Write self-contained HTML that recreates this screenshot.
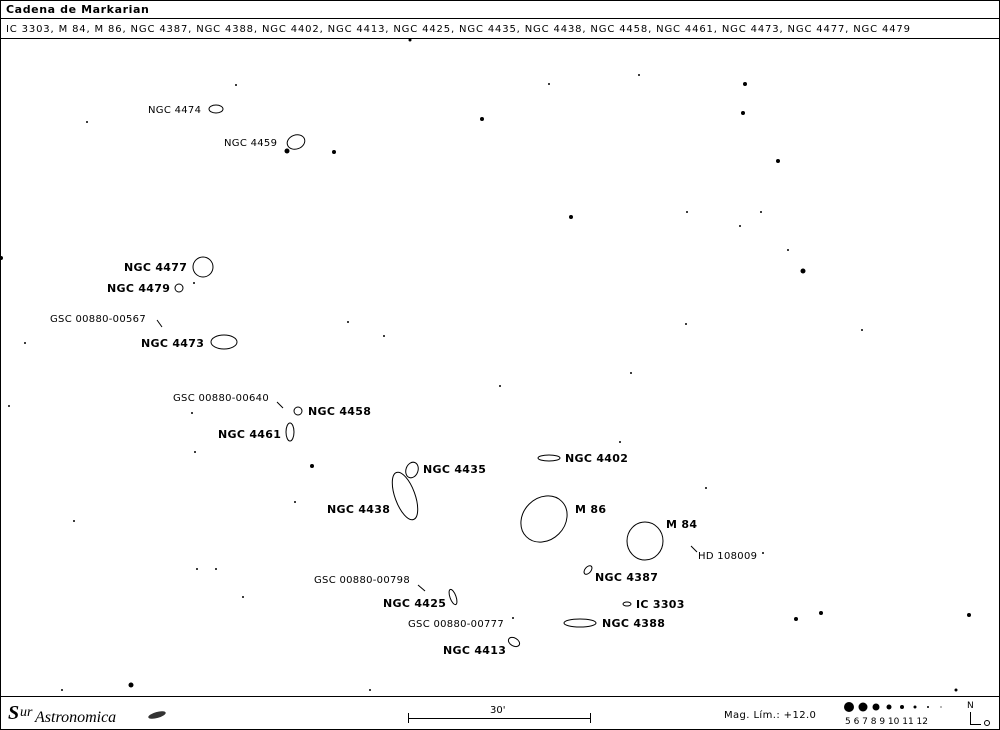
<!DOCTYPE html>
<html><head><meta charset="utf-8"><style>
html,body{margin:0;padding:0;background:#fff}
svg{display:block}
text{font-family:"DejaVu Sans","Liberation Sans",sans-serif;fill:#000}
.b{font-size:11px;font-weight:bold}
.s{font-size:10px;font-weight:normal}
</style></head><body>
<svg width="1000" height="730" viewBox="0 0 1000 730">
<rect x="0.5" y="0.5" width="999" height="729" fill="#fff" stroke="#000"/>
<line x1="0" y1="18.5" x2="1000" y2="18.5" stroke="#000"/>
<line x1="0" y1="38.5" x2="1000" y2="38.5" stroke="#000"/>
<line x1="0" y1="696.5" x2="1000" y2="696.5" stroke="#000"/>
<text x="6" y="13" class="b" style="letter-spacing:0.6px">Cadena de Markarian</text>
<text x="6" y="32" class="s" style="letter-spacing:0.85px">IC 3303, M 84, M 86, NGC 4387, NGC 4388, NGC 4402, NGC 4413, NGC 4425, NGC 4435, NGC 4438, NGC 4458, NGC 4461, NGC 4473, NGC 4477, NGC 4479</text>
<g fill="none" stroke="#000" stroke-width="1">
<ellipse cx="216" cy="109" rx="7" ry="4"/>
<ellipse cx="296" cy="142" rx="9" ry="7" transform="rotate(-20 296 142)"/>
<ellipse cx="203" cy="267" rx="10" ry="10"/>
<ellipse cx="179" cy="288" rx="4" ry="4"/>
<ellipse cx="224" cy="342" rx="13" ry="7"/>
<ellipse cx="298" cy="411" rx="4" ry="4"/>
<ellipse cx="290" cy="432" rx="4" ry="9"/>
<ellipse cx="412" cy="470" rx="6" ry="8" transform="rotate(20 412 470)"/>
<ellipse cx="405" cy="496" rx="10" ry="25" transform="rotate(-20 405 496)"/>
<ellipse cx="549" cy="458" rx="11" ry="3"/>
<ellipse cx="544" cy="519" rx="21" ry="25" transform="rotate(45 544 519)"/>
<ellipse cx="645" cy="541" rx="18" ry="19"/>
<ellipse cx="588" cy="570" rx="3" ry="5" transform="rotate(40 588 570)"/>
<ellipse cx="627" cy="604" rx="4" ry="2"/>
<ellipse cx="580" cy="623" rx="16" ry="4"/>
<ellipse cx="453" cy="597" rx="3" ry="8" transform="rotate(-20 453 597)"/>
<ellipse cx="514" cy="642" rx="6" ry="4" transform="rotate(30 514 642)"/>
<line x1="157" y1="320" x2="162" y2="327"/>
<line x1="277" y1="402" x2="283" y2="408"/>
<line x1="418" y1="585" x2="425" y2="591"/>
<line x1="691" y1="546" x2="697" y2="552"/>
</g>
<g class="b" style="letter-spacing:0.3px">
<text x="148" y="113" class="s">NGC 4474</text>
<text x="224" y="146" class="s">NGC 4459</text>
<text x="124" y="271">NGC 4477</text>
<text x="107" y="292">NGC 4479</text>
<text x="50" y="322" class="s">GSC 00880-00567</text>
<text x="141" y="347">NGC 4473</text>
<text x="173" y="401" class="s">GSC 00880-00640</text>
<text x="308" y="415">NGC 4458</text>
<text x="218" y="438">NGC 4461</text>
<text x="423" y="473">NGC 4435</text>
<text x="327" y="513">NGC 4438</text>
<text x="565" y="462">NGC 4402</text>
<text x="575" y="513">M 86</text>
<text x="666" y="528">M 84</text>
<text x="698" y="559" class="s">HD 108009</text>
<text x="595" y="581">NGC 4387</text>
<text x="636" y="608">IC 3303</text>
<text x="314" y="583" class="s">GSC 00880-00798</text>
<text x="383" y="607">NGC 4425</text>
<text x="408" y="627" class="s">GSC 00880-00777</text>
<text x="602" y="627">NGC 4388</text>
<text x="443" y="654">NGC 4413</text>
</g>
<g fill="#000">
<circle cx="410" cy="40" r="1.5"/><circle cx="287" cy="151" r="2.5"/><circle cx="334" cy="152" r="2"/>
<circle cx="482" cy="119" r="2"/><circle cx="745" cy="84" r="2"/><circle cx="743" cy="113" r="2"/>
<circle cx="778" cy="161" r="2"/><circle cx="571" cy="217" r="2"/><circle cx="803" cy="271" r="2.5"/>
<circle cx="1" cy="258" r="2"/><circle cx="312" cy="466" r="2"/><circle cx="131" cy="685" r="2.5"/>
<circle cx="796" cy="619" r="2"/><circle cx="821" cy="613" r="2"/><circle cx="969" cy="615" r="2"/>
<circle cx="956" cy="690" r="1.5"/><circle cx="513" cy="618" r="1"/>
<circle cx="236" cy="85" r="1"/><circle cx="549" cy="84" r="1"/><circle cx="639" cy="75" r="1"/>
<circle cx="87" cy="122" r="1"/><circle cx="687" cy="212" r="1"/><circle cx="761" cy="212" r="1"/>
<circle cx="740" cy="226" r="1"/><circle cx="788" cy="250" r="1"/><circle cx="348" cy="322" r="1"/>
<circle cx="384" cy="336" r="1"/><circle cx="686" cy="324" r="1"/><circle cx="25" cy="343" r="1"/>
<circle cx="500" cy="386" r="1"/><circle cx="631" cy="373" r="1"/><circle cx="9" cy="406" r="1"/>
<circle cx="192" cy="413" r="1"/><circle cx="74" cy="521" r="1"/><circle cx="295" cy="502" r="1"/>
<circle cx="197" cy="569" r="1"/><circle cx="216" cy="569" r="1"/><circle cx="243" cy="597" r="1"/>
<circle cx="763" cy="553" r="1"/><circle cx="706" cy="488" r="1"/><circle cx="620" cy="442" r="1"/>
<circle cx="370" cy="690" r="1"/><circle cx="62" cy="690" r="1"/><circle cx="194" cy="283" r="1"/>
<circle cx="862" cy="330" r="1"/><circle cx="195" cy="452" r="1"/>
</g>
<text x="8" y="719" style="font-family:'Liberation Serif',serif;font-size:20px;font-style:italic;font-weight:bold">S</text>
<text x="20" y="716" style="font-family:'Liberation Serif',serif;font-size:14px;font-style:italic">ur</text>
<text x="35" y="722" style="font-family:'Liberation Serif',serif;font-size:16px;font-style:italic">Astronomica</text>
<ellipse cx="157" cy="715" rx="9" ry="3" fill="#333" transform="rotate(-15 157 715)"/>
<g stroke="#000"><line x1="408" y1="718.5" x2="591" y2="718.5"/><line x1="408.5" y1="713" x2="408.5" y2="723"/><line x1="590.5" y1="713" x2="590.5" y2="723"/></g>
<text x="490" y="713" class="s">30'</text>
<text x="724" y="718" class="s" style="letter-spacing:0.4px">Mag. Lím.: +12.0</text>
<g fill="#000">
<circle cx="849" cy="707" r="5"/><circle cx="863" cy="707" r="4.5"/><circle cx="876" cy="707" r="3.5"/>
<circle cx="889" cy="707" r="2.5"/><circle cx="902" cy="707" r="2"/><circle cx="915" cy="707" r="1.5"/>
<circle cx="928" cy="707" r="1"/><circle cx="941" cy="707" r="0.6"/>
</g>
<text x="845" y="724" style="font-size:9px">5 6 7 8 9 10 11 12</text>
<text x="967" y="708" style="font-size:9px">N</text>
<path d="M970.5 712 V724.5 H981" fill="none" stroke="#000"/>
<circle cx="987" cy="723" r="2.5" fill="none" stroke="#000"/>
</svg>
</body></html>
